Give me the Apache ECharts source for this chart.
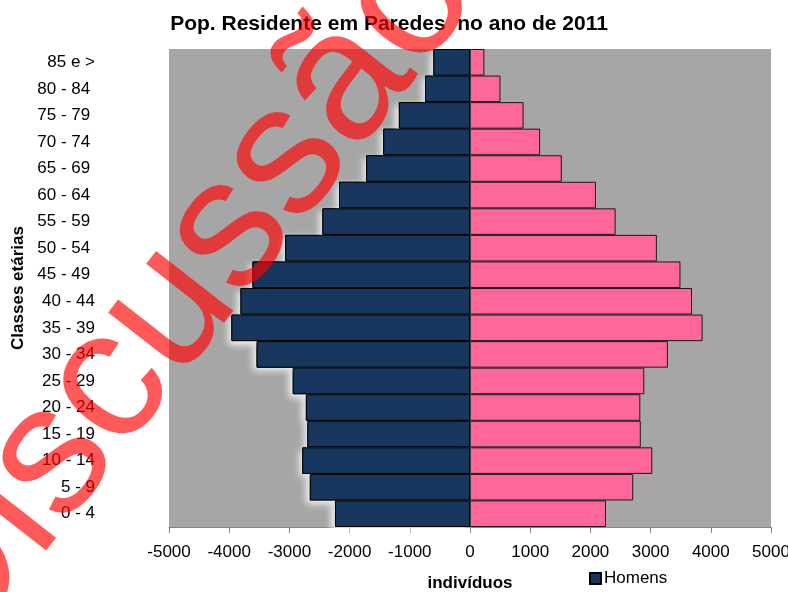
<!DOCTYPE html>
<html>
<head>
<meta charset="utf-8">
<script src="https://cdn.jsdelivr.net/npm/echarts@6/dist/echarts.min.js"></script>
<style>
html,body{margin:0;padding:0;background:#fff;}
#chart{width:788px;height:592px;}
</style>
</head>
<body>
<div id="chart"></div>
<script>
// ---- data ----
const categories = ['0 - 4','5 - 9','10 - 14','15 - 19','20 - 24','25 - 29','30 - 34','35 - 39','40 - 44',
  '45 - 49 ','50 - 54 ','55 - 59 ','60 - 64 ','65 - 69 ','70 - 74 ','75 - 79 ','80 - 84 ','85 e >'];
const homens   = [-2243,-2661,-2786,-2702,-2727,-2945,-3546,-3964,-3813,-3614,-3069,-2452,-2176,-1725,-1441,-1182,-747,-608];
const mulheres = [2259,2711,3028,2837,2829,2895,3287,3864,3688,3496,3104,2419,2093,1525,1165,890,506,239];
const xMin = -5000, xMax = 5000, xStep = 1000;
const titleText = 'Pop. Residente em Paredes  no ano de 2011';
const xName = 'indivíduos';
const yName = 'Classes etárias';
const watermark = 'Discussão';

const FONT = '"Liberation Sans", Arial, sans-serif';
const chart = echarts.init(document.getElementById('chart'), null, {renderer:'canvas'});
const rot = 52 * Math.PI / 180;

chart.setOption({
  animation: false,
  backgroundColor: '#ffffff',
  title: {
    text: titleText,
    left: 384, top: 9, textAlign: 'center',
    textStyle: {fontFamily: FONT, fontSize: 21, fontWeight: 'bold', color: '#000'}
  },
  legend: {
    data: ['Homens'],
    left: 584, top: 565,
    itemWidth: 11, itemHeight: 11, itemGap: 10,
    icon: 'rect',
    textStyle: {fontFamily: FONT, fontSize: 17, color: '#000', padding: [0,0,0,-2]}
  },
  grid: {
    left: 169, right: 17, top: 49, bottom: 65,
    show: true, backgroundColor: '#a6a6a6', borderWidth: 0,
    containLabel: false, outerBoundsMode: 'none'
  },
  xAxis: {
    type: 'value', min: xMin, max: xMax, interval: xStep,
    name: xName, nameLocation: 'middle', nameGap: 48,
    nameTextStyle: {fontFamily: FONT, fontSize: 17, fontWeight: 'bold', color: '#000'},
    axisLine: {show: true, lineStyle: {color: '#868686', width: 1}},
    axisTick: {show: true, length: 6, lineStyle: {color: '#868686'}},
    axisLabel: {fontFamily: FONT, fontSize: 17, color: '#000', margin: 17, formatter: v => String(v)},
    splitLine: {show: false}
  },
  yAxis: {
    type: 'category', data: categories,
    name: yName, nameLocation: 'middle', nameGap: 140, nameRotate: 90,
    nameTextStyle: {fontFamily: FONT, fontSize: 17, fontWeight: 'bold', color: '#000'},
    axisLine: {show: false, onZero: false},
    axisTick: {show: false},
    axisLabel: {fontFamily: FONT, fontSize: 17, color: '#000', align: 'right', margin: 74, padding: [4,0,0,0]},
    splitLine: {show: false}
  },
  series: [
    {
      name: 'sombra',
      type: 'bar', stack: 'sombra', data: homens, silent: true,
      barGap: '-100%', barCategoryGap: '0%',
      itemStyle: {color: '#17375e', borderColor: '#000', borderWidth: 1,
        shadowColor: 'rgba(255,255,255,0.95)', shadowBlur: 7, shadowOffsetX: -3, shadowOffsetY: 3}
    },
    {
      name: 'Homens',
      type: 'bar', stack: 'pop', data: homens,
      barGap: '-100%', barCategoryGap: '0%',
      itemStyle: {color: '#17375e', borderColor: '#000', borderWidth: 1}
    },
    {
      name: 'Mulheres',
      type: 'bar', stack: 'pop', data: mulheres,
      barGap: '-100%', barCategoryGap: '0%',
      itemStyle: {color: '#ff6699', borderColor: '#1a1a1a', borderWidth: 1},
      markLine: {
        silent: true, symbol: 'none', label: {show: false},
        lineStyle: {color: '#404040', width: 1, type: 'solid'},
        data: [{xAxis: 0}]
      }
    }
  ],
  graphic: [{
    type: 'text', z: 100, silent: true,
    x: -84, y: 634, rotation: rot,
    style: {
      text: watermark,
      font: '185px "Liberation Sans", Arial, sans-serif',
      fill: 'rgba(255,0,0,0.65)',
      align: 'left', verticalAlign: 'middle'
    }
  }]
});
</script>
</body>
</html>
